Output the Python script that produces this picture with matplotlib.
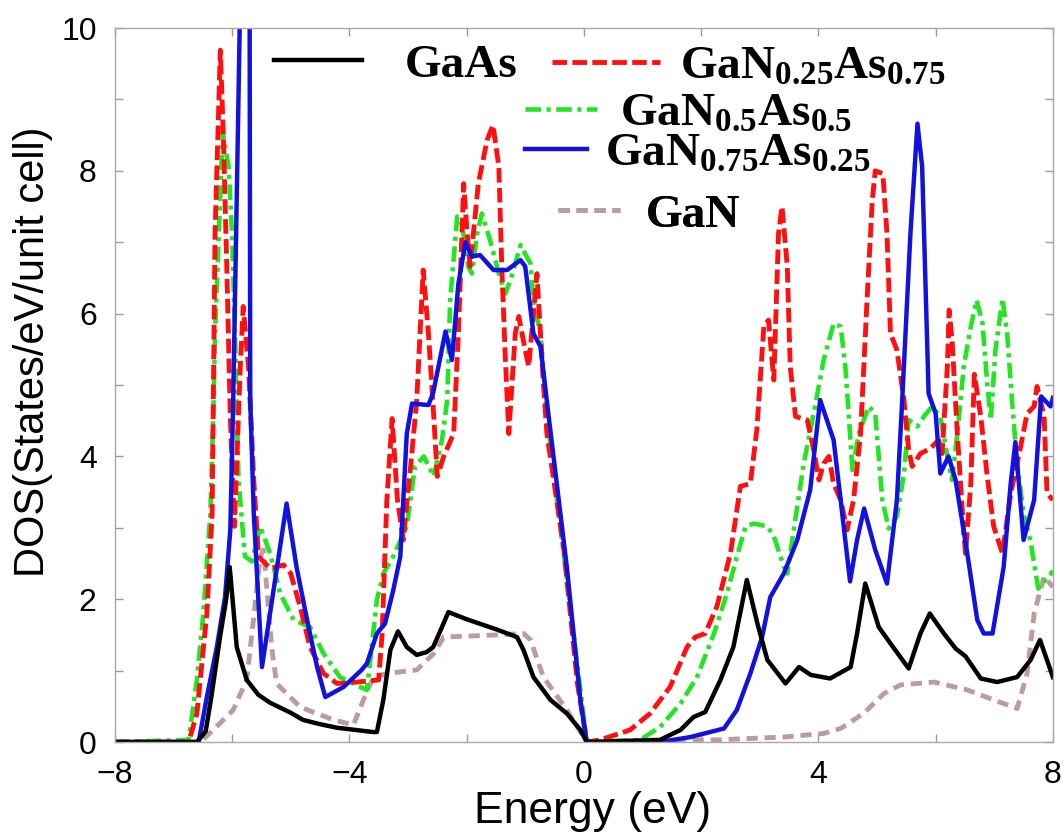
import matplotlib
matplotlib.use('Agg')
import matplotlib.pyplot as plt
import matplotlib.ticker as tk
from matplotlib.font_manager import FontProperties

plt.rcParams['font.family'] = 'Liberation Sans'
plt.rcParams['mathtext.fontset'] = 'custom'
plt.rcParams['mathtext.rm'] = 'Liberation Serif:bold'
plt.rcParams['mathtext.default'] = 'regular'

# --- DOS curves (energy in eV, DOS in states/eV/unit cell) ---
gaas_e = [-8.0, -6.6, -6.45, -6.35, -6.2, -6.1, -6.04, -5.92, -5.75, -5.55, -5.35, -5.0, -4.79, -4.5,
          -4.21, -3.9, -3.6, -3.53, -3.42, -3.3, -3.17, -3.02, -2.85, -2.68, -2.57, -2.42, -2.31, -2.0,
          -1.5, -1.14, -1.03, -0.86, -0.57, -0.29, -0.06, 0.05, 1.3, 1.65, 1.87, 2.07, 2.33, 2.55, 2.78,
          2.96, 3.13, 3.44, 3.67, 3.87, 4.2, 4.55, 4.66, 4.8, 5.03, 5.23, 5.54, 5.74, 5.9, 6.14, 6.34,
          6.51, 6.77, 7.05, 7.39, 7.62, 7.78, 8.0]
gaas_d = [0.0, 0.0, 0.15, 0.65, 1.5, 2.0, 2.45, 1.33, 0.87, 0.66, 0.55, 0.41, 0.31, 0.25,
          0.2, 0.17, 0.14, 0.14, 0.59, 1.29, 1.55, 1.33, 1.22, 1.26, 1.33, 1.61, 1.82, 1.72,
          1.58, 1.47, 1.29, 0.91, 0.59, 0.4, 0.17, 0.0, 0.03, 0.17, 0.35, 0.42, 0.87, 1.33, 2.27,
          1.66, 1.15, 0.82, 1.05, 0.94, 0.89, 1.05, 1.52, 2.22, 1.61, 1.38, 1.03, 1.52, 1.8, 1.52, 1.31,
          1.2, 0.89, 0.84, 0.91, 1.15, 1.43, 0.91]

n25_e = [-8.0, -6.74, -6.6, -6.43, -6.34, -6.29, -6.2, -6.15, -6.09, -6.03,
         -5.96, -5.86, -5.81, -5.72, -5.63, -5.55, -5.35, -5.12, -5.0, -4.84,
         -4.67, -4.44, -4.21, -3.87, -3.5, -3.44, -3.36, -3.27, -3.18, -3.08,
         -2.95, -2.85, -2.74, -2.65, -2.56, -2.5, -2.39, -2.22, -2.14, -2.05,
         -1.99, -1.94, -1.8, -1.65, -1.55, -1.45, -1.4, -1.34, -1.28, -1.17,
         -1.11, -1.0, -0.94, -0.8, -0.69, -0.63, -0.34, -0.11, 0.05, 0.28,
         0.79, 1.13, 1.47, 1.76, 1.9, 2.07, 2.27, 2.5, 2.67, 2.84,
         2.95, 3.07, 3.15, 3.24, 3.32, 3.38, 3.47, 3.52, 3.61, 3.81,
         3.92, 4.01, 4.09, 4.18, 4.26, 4.38, 4.49, 4.6, 4.72, 4.83,
         4.92, 4.97, 5.1, 5.17, 5.23, 5.34, 5.46, 5.54, 5.6, 5.74,
         5.91, 6.05, 6.11, 6.2, 6.23, 6.28, 6.37, 6.48, 6.51, 6.6,
         6.66, 6.77, 6.88, 6.99, 7.14, 7.28, 7.45, 7.56, 7.68, 7.73,
         7.85, 7.9, 8.0]
n25_d = [0.0, 0.0, 0.4, 1.8, 3.2, 7.13, 9.69, 8.53, 6.66, 4.56,
         3.02, 5.26, 6.1, 5.26, 3.67, 2.6, 2.43, 2.48, 2.36, 1.9,
         1.33, 0.96, 0.82, 0.84, 0.87, 1.52, 3.39, 4.53, 3.4, 2.83,
         3.9, 4.79, 6.61, 5.72, 4.56, 3.72, 4.0, 4.32, 5.72, 7.82,
         7.12, 6.66, 7.82, 8.43, 8.64, 8.06, 6.66, 5.4, 4.32, 5.72,
         5.96, 5.49, 5.26, 6.56, 5.02, 4.32, 2.69, 0.82, 0.0, 0.03,
         0.17, 0.4, 0.77, 1.33, 1.47, 1.52, 1.9, 2.64, 3.58, 3.62,
         4.37, 5.82, 5.91, 5.07, 7.12, 7.5, 6.66, 5.26, 4.56, 4.51,
         4.09, 3.67, 3.9, 4.0, 3.62, 3.39, 2.97, 3.39, 4.32, 6.19,
         7.59, 8.0, 7.96, 7.12, 5.72, 5.49, 4.79, 4.09, 3.86, 4.04,
         4.11, 4.23, 4.04, 5.26, 6.05, 5.63, 4.32, 2.92, 2.64, 3.62,
         5.15, 4.56, 3.72, 3.02, 2.64, 3.48, 4.14, 4.6, 4.7, 4.98,
         4.56, 3.48, 3.39]

n50_e = [-8.0, -6.74, -6.6, -6.49, -6.37, -6.32, -6.29, -6.16, -6.06, -6.0,
         -5.95, -5.89, -5.78, -5.66, -5.52, -5.35, -5.18, -4.95, -4.67, -4.44,
         -4.16, -3.81, -3.7, -3.53, -3.42, -3.25, -3.02, -2.88, -2.73, -2.56,
         -2.42, -2.33, -2.28, -2.16, -2.08, -1.97, -1.91, -1.82, -1.74, -1.6,
         -1.45, -1.34, -1.25, -1.08, -0.91, -0.86, -0.74, -0.63, -0.3, 0.05,
         0.96, 1.3, 1.65, 1.93, 2.22, 2.44, 2.61, 2.76, 2.9, 3.13,
         3.24, 3.41, 3.47, 3.58, 3.75, 3.92, 4.09, 4.26, 4.38, 4.46,
         4.52, 4.58, 4.69, 4.86, 4.97, 5.09, 5.2, 5.34, 5.46, 5.54,
         5.69, 5.8, 5.94, 6.08, 6.23, 6.28, 6.37, 6.48, 6.6, 6.7,
         6.8, 6.88, 6.94, 7.02, 7.14, 7.22, 7.31, 7.39, 7.5, 7.62,
         7.75, 7.85, 7.96, 8.0]
n50_d = [0.0, 0.03, 0.87, 1.8, 3.2, 4.6, 5.72, 8.55, 8.06, 7.12,
         5.72, 3.67, 2.6, 2.53, 3.02, 2.64, 2.08, 1.71, 1.61, 1.24,
         0.91, 0.77, 0.73, 1.99, 2.36, 2.6, 3.02, 3.86, 4.0, 3.72,
         4.23, 4.79, 6.19, 7.36, 7.26, 6.66, 6.56, 7.12, 7.4, 7.03,
         6.56, 6.28, 6.47, 6.96, 6.7, 6.19, 5.72, 4.56, 2.35, 0.0,
         0.03, 0.21, 0.54, 0.91, 1.52, 2.08, 2.6, 3.02, 3.06, 3.02,
         2.88, 2.46, 2.36, 2.97, 3.9, 4.6, 5.35, 5.86, 5.82, 5.26,
         4.56, 3.81, 4.32, 4.7, 4.6, 3.39, 2.99, 3.16, 3.76, 4.51,
         4.42, 4.56, 4.7, 4.56, 3.86, 3.67, 4.32, 5.26, 5.82, 6.19,
         5.86, 5.02, 4.51, 5.49, 6.21, 5.72, 4.7, 3.9, 3.2, 2.8,
         2.15, 2.25, 2.35, 2.4]

n75_e = [-8.0, -6.57, -6.43, -6.26, -6.12, -6.03, -5.98, -5.87, -5.78, -5.70,
         -5.69, -5.63, -5.49, -5.07, -4.9, -4.72, -4.55, -4.41, -4.1, -3.79,
         -3.7, -3.53, -3.39, -3.25, -3.13, -3.02, -2.93, -2.65, -2.57, -2.36,
         -2.25, -2.14, -2.02, -1.91, -1.77, -1.54, -1.31, -1.08, -1.0, -0.86,
         -0.74, -0.6, -0.29, -0.06, 0.05, 1.3, 1.82, 2.39, 2.61, 2.84,
         3.04, 3.18, 3.41, 3.64, 3.86, 4.03, 4.26, 4.38, 4.54, 4.66,
         4.78, 4.97, 5.17, 5.34, 5.43, 5.57, 5.69, 5.77, 5.88, 6.0,
         6.08, 6.22, 6.34, 6.54, 6.71, 6.82, 6.97, 7.16, 7.28, 7.36,
         7.5, 7.68, 7.8, 7.96, 8.0]
n75_d = [0.0, 0.0, 0.63, 1.33, 2.03, 2.97, 4.8, 10.0, 16.0, 10.0,
         4.8, 3.2, 1.05, 3.34, 2.45, 1.71, 1.05, 0.63, 0.77, 1.01,
         1.1, 1.52, 1.66, 2.13, 2.6, 4.32, 4.74, 4.72, 4.89, 5.75,
         5.35, 6.42, 7.0, 6.8, 6.82, 6.61, 6.61, 6.75, 6.66, 5.72,
         5.54, 4.56, 2.45, 0.59, 0.0, 0.0, 0.07, 0.19, 0.45, 0.96,
         1.47, 2.03, 2.36, 2.83, 3.53, 4.79, 4.23, 3.39, 2.25, 2.83,
         3.27, 2.69, 2.22, 3.39, 4.79, 7.12, 8.66, 8.06, 4.88, 4.6,
         3.76, 4.0, 3.67, 2.64, 1.71, 1.52, 1.52, 2.45, 3.62, 4.2,
         2.83, 3.39, 4.84, 4.7, 4.82]

gan_e = [-8.0, -6.54, -6.32, -5.98, -5.75, -5.63, -5.52, -5.46, -5.41, -5.32, -5.24, -4.84, -4.27,
         -3.93, -3.76, -3.59, -3.36, -2.85, -2.56, -2.39, -1.5, -1.03, -0.91, -0.69, -0.29, 0.05,
         2.27, 3.41, 4.09, 4.38, 4.77, 5.12, 5.4, 5.97, 6.54, 6.99, 7.39, 7.56, 7.68, 7.85, 8.0]
gan_d = [0.0, 0.0, 0.17, 0.45, 0.87, 1.75, 2.6, 2.69, 2.17, 1.29, 0.82, 0.49, 0.31,
         0.24, 0.59, 0.91, 0.96, 1.01, 1.24, 1.47, 1.5, 1.52, 1.43, 0.91, 0.45, 0.0,
         0.03, 0.07, 0.12, 0.19, 0.4, 0.68, 0.8, 0.84, 0.73, 0.59, 0.47, 0.96, 1.8, 2.32, 2.17]

labels = ['GaAs', r'GaN$_{0.25}$As$_{0.75}$', r'GaN$_{0.5}$As$_{0.5}$',
          r'GaN$_{0.75}$As$_{0.25}$', 'GaN']


fig = plt.figure(figsize=(10.63, 8.36), dpi=100)
ax = fig.add_axes([0.108, 0.1124, 0.8825, 0.8541])

# drawn in this order so blue/black sit on top like the original
l_gan, = ax.plot(gan_e, gan_d, color='#bc9c9c', lw=3.5, dashes=(2.3, 1.4))
l_n50, = ax.plot(n50_e, n50_d, color='#22e622', lw=3.3, dashes=(3.4, 1.2, 0.9, 1.2))
l_n25, = ax.plot(n25_e, n25_d, color='#ff1010', lw=3.5, dashes=(3.0, 1.1))
l_n75, = ax.plot(n75_e, n75_d, color='#1212e0', lw=3.2)
l_gaas, = ax.plot(gaas_e, gaas_d, color='k', lw=3.2)

ax.set_xlim(-8, 8)
ax.set_ylim(0, 10)
ax.xaxis.set_major_locator(tk.MultipleLocator(4))
ax.xaxis.set_minor_locator(tk.MultipleLocator(2))
ax.yaxis.set_major_locator(tk.MultipleLocator(2))
ax.yaxis.set_minor_locator(tk.MultipleLocator(1))
ax.tick_params(which='both', direction='in', top=True, right=True, length=6,
               width=1, color='#9a9a9a')
ax.tick_params(which='major', labelsize=23, pad=13)
for sp in ax.spines.values():
    sp.set_color('#a8a8a8')
    sp.set_linewidth(1.0)

ax.set_xlabel('Energy (eV)', fontsize=32)
ax.set_ylabel('DOS(States/eV/unit cell)', fontsize=30)
ax.xaxis.set_label_coords(0.509, -0.068)
ax.yaxis.set_label_coords(-0.066, 0.546)

# staggered key, one small legend per curve
key_font = FontProperties(family='Liberation Serif', weight='bold', size=34)
keys = [(l_gaas, labels[0], 0.170, 0.948, 1.86, 0.91),
        (l_n25, labels[1], 0.466, 0.945, 2.29, 0.42),
        (l_n50, labels[2], 0.437, 0.880, 1.53, 0.49),
        (l_n75, labels[3], 0.437, 0.824, 1.31, 0.38),
        (l_gan, labels[4], 0.472, 0.738, 1.33, 0.53)]
for line, lab, x, y, hl, pad in keys:
    leg = ax.legend([line], [lab], loc='center left', bbox_to_anchor=(x, y),
                    frameon=False, handlelength=hl, handletextpad=pad,
                    borderpad=0, borderaxespad=0, prop=key_font)
    ax.add_artist(leg)

fig.savefig('out.png', dpi=100)
